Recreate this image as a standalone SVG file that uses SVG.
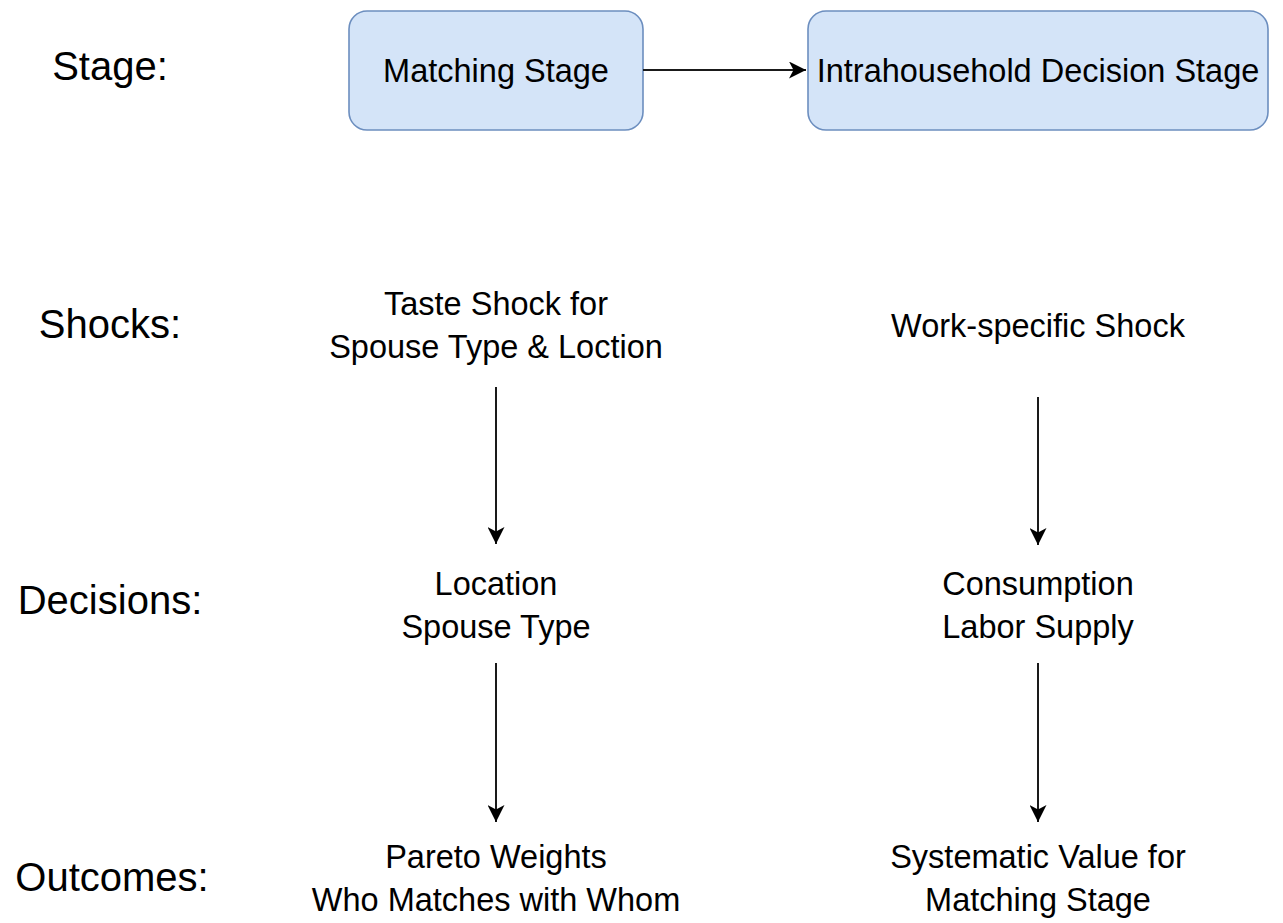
<svg xmlns="http://www.w3.org/2000/svg" width="1283" height="923" viewBox="0 0 1283 923">
  <style>
    .box { fill: #d4e4f8; stroke: #6c8ebf; stroke-width: 1.6; }
    .t { font-family: "Liberation Sans", Arial, sans-serif; font-size: 32.5px; fill: #000; text-anchor: middle; }
    .lbl { font-family: "Liberation Sans", Arial, sans-serif; font-size: 40px; fill: #000; text-anchor: middle; }
    .conn { stroke: #1a1a1a; stroke-width: 2; fill: none; }
  </style>
  <defs>
    <marker id="arr" markerUnits="userSpaceOnUse" markerWidth="19" markerHeight="17" refX="17" refY="8.5" orient="auto">
      <path d="M0,0 L17,8.5 L0,17 L4.5,8.5 Z" fill="#000"/>
    </marker>
  </defs>
  <rect width="1283" height="923" fill="#fff"/>

  <g id="label-stage"><text class="lbl" x="110" y="80">Stage:</text></g>
  <g id="label-shocks"><text class="lbl" x="110" y="338">Shocks:</text></g>
  <g id="label-decisions"><text class="lbl" x="110" y="614">Decisions:</text></g>
  <g id="label-outcomes"><text class="lbl" x="112" y="891">Outcomes:</text></g>

  <g id="matching-stage">
    <rect class="box" x="349" y="11" width="294" height="119" rx="18"/>
    <text class="t" x="496" y="82">Matching Stage</text>
  </g>
  <g id="intrahousehold-stage">
    <rect class="box" x="808" y="11" width="460" height="119" rx="18"/>
    <text class="t" x="1038" y="82">Intrahousehold Decision Stage</text>
  </g>

  <g id="taste-shock">
    <text class="t" x="496" y="315">Taste Shock for</text>
    <text class="t" x="496" y="358">Spouse Type &amp; Loction</text>
  </g>
  <g id="work-shock">
    <text class="t" x="1038" y="337">Work-specific Shock</text>
  </g>
  <g id="matching-decisions">
    <text class="t" x="496" y="595">Location</text>
    <text class="t" x="496" y="638">Spouse Type</text>
  </g>
  <g id="household-decisions">
    <text class="t" x="1038" y="595">Consumption</text>
    <text class="t" x="1038" y="638">Labor Supply</text>
  </g>
  <g id="matching-outcomes">
    <text class="t" x="496" y="868">Pareto Weights</text>
    <text class="t" x="496" y="911">Who Matches with Whom</text>
  </g>
  <g id="household-outcomes">
    <text class="t" x="1038" y="868">Systematic Value for</text>
    <text class="t" x="1038" y="911">Matching Stage</text>
  </g>

  <g id="connectors">
    <line class="conn" x1="643" y1="70" x2="806" y2="70" marker-end="url(#arr)"/>
    <line class="conn" x1="496" y1="387" x2="496" y2="544" marker-end="url(#arr)"/>
    <line class="conn" x1="496" y1="663" x2="496" y2="822" marker-end="url(#arr)"/>
    <line class="conn" x1="1038" y1="397" x2="1038" y2="545" marker-end="url(#arr)"/>
    <line class="conn" x1="1038" y1="663" x2="1038" y2="822" marker-end="url(#arr)"/>
  </g>
</svg>
